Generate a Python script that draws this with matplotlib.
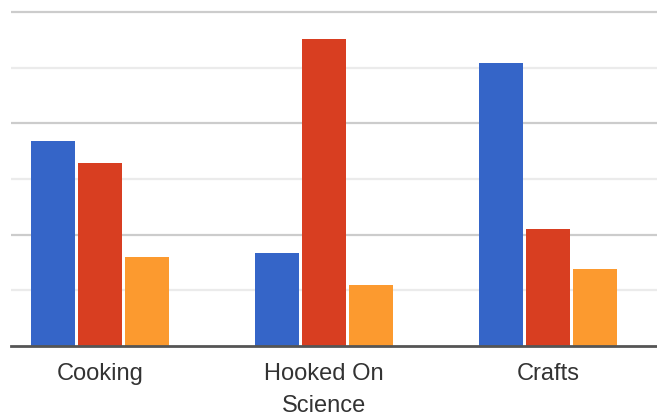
import matplotlib
matplotlib.use("Agg")
import matplotlib.pyplot as plt
import numpy as np

categories = ["Cooking", "Hooked On\nScience", "Crafts"]
series_a = [36.8, 16.7, 50.8]
series_b = [32.9, 55.1, 21.0]
series_c = [16.0, 11.0, 13.8]
colors = ["#3565C8", "#D83E21", "#FC9A2F"]

W, H = 657, 418
fig = plt.figure(figsize=(W / 100, H / 100), dpi=100)
ymax = 61
px_per_unit = (346 - 12) / 60
top_px = 346 - ymax * px_per_unit
ax = fig.add_axes([11 / W, (H - 346) / H, (W - 11) / W, (346 - top_px) / H])

x = np.arange(len(categories))
off = 0.21
wd = 0.2
for i, (vals, c) in enumerate(zip([series_a, series_b, series_c], colors)):
    ax.bar(x + (i - 1) * off, vals, width=wd, color=c, zorder=3)

ax.set_xlim(-89 / 224, (W - 100) / 224)
ax.set_ylim(0, ymax)

for v in range(10, 61, 10):
    col = "#cccccc" if v % 20 == 0 else "#ebebeb"
    ax.axhline(v, color=col, lw=1.6, zorder=1)
ax.axhline(0, color="#555555", lw=2, zorder=4, clip_on=False)

for s in ax.spines.values():
    s.set_visible(False)
ax.set_yticks([])
ax.set_xticks(x)
ax.set_xticklabels(categories, fontsize=17, color="#333333",
                   family=["Liberation Sans", "DejaVu Sans"], linespacing=1.6)
ax.tick_params(axis="x", length=0, pad=12)

fig.savefig("out.png", dpi=100)
